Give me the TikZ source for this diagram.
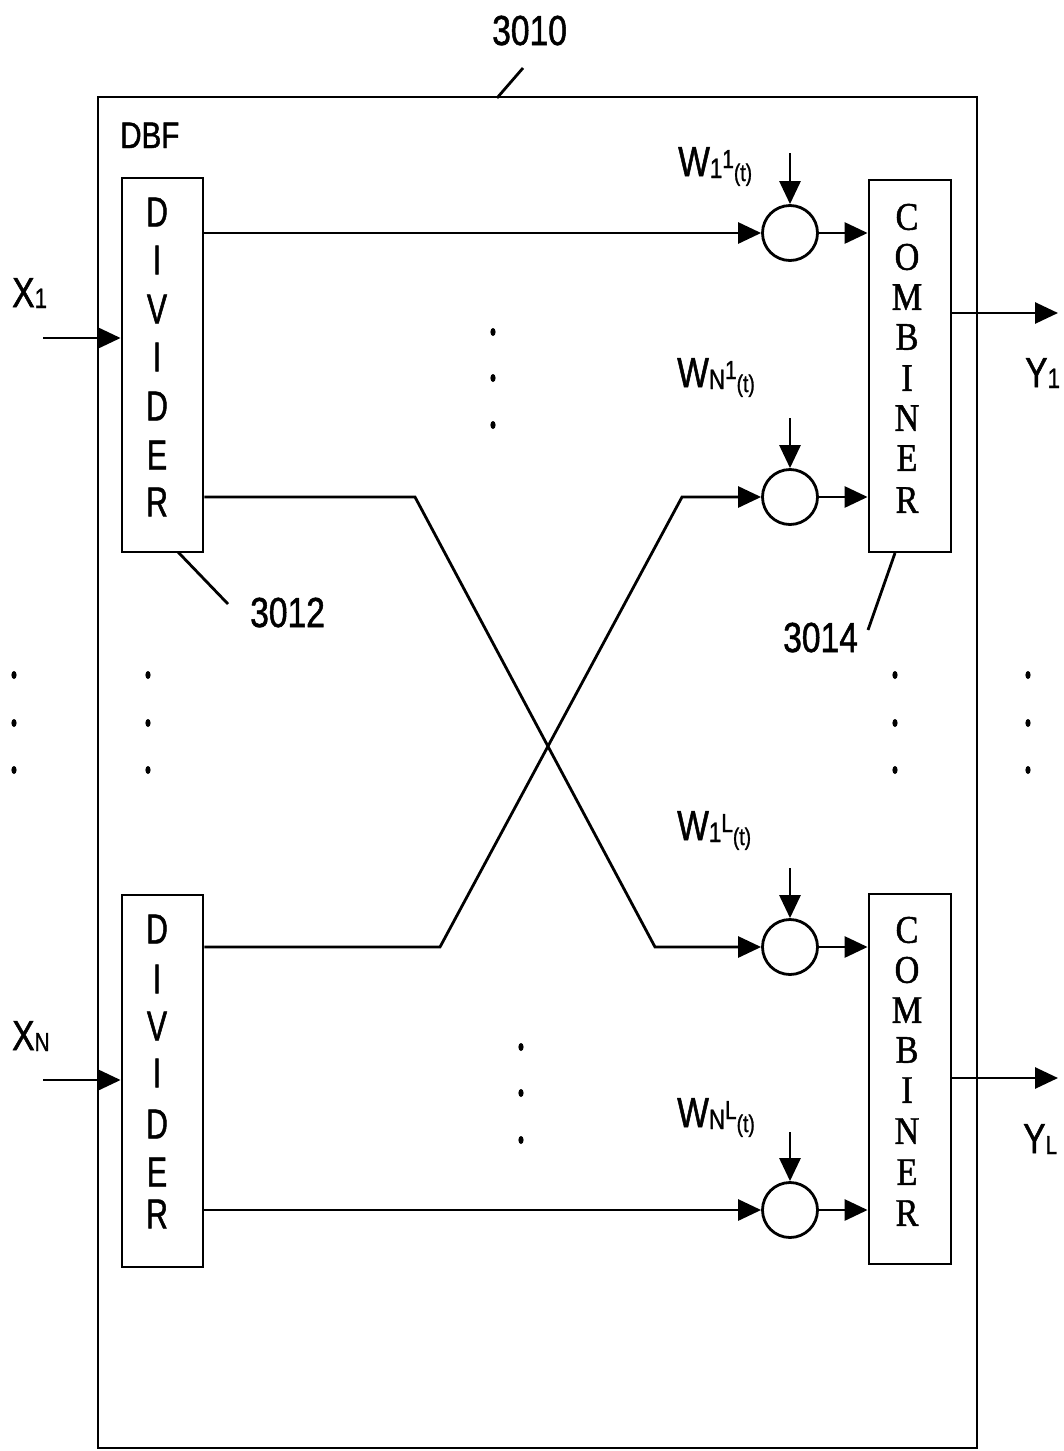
\documentclass[tikz,border=0pt]{standalone}
\usepackage{fontspec}
\setmainfont{Liberation Sans}
\newfontfamily\labf[FakeStretch=0.8,FakeBold=1.2]{Liberation Sans}
\newfontfamily\divf[FakeStretch=0.72,FakeBold=1.2]{Liberation Sans}
\newfontfamily\combf[FakeStretch=0.88,FakeBold=1.2]{Liberation Serif}
\usetikzlibrary{arrows.meta}
\newcommand{\wlabel}[2]{W\raisebox{-2pt}{\fontsize{28}{28}\selectfont #1}\raisebox{8pt}{\fontsize{26}{26}\selectfont #2}\raisebox{-5pt}{\fontsize{24}{24}\selectfont (t)}}
\newcommand{\sublab}[2]{#1\raisebox{-1pt}{\fontsize{28}{28}\selectfont #2}}
\tikzset{
  ln/.style={line width=2.8pt},
  arr/.style={ln, -{Triangle[length=23pt,width=21pt]}},
  blk/.style={draw, line width=2.8pt, inner sep=0pt, minimum width=81pt},
  mult/.style={draw, circle, line width=2.8pt, minimum size=55pt, inner sep=0pt},
  lbl/.style={inner sep=0pt, font=\labf\fontsize{42}{42}\selectfont, anchor=base west},
  dlet/.style={inner sep=0pt, font=\divf\fontsize{42}{42}\selectfont},
  clet/.style={inner sep=0pt, font=\combf\fontsize{39}{39}\selectfont},
}
\begin{document}
\begin{tikzpicture}[x=1pt, y=-1pt]
\useasboundingbox (0,0) rectangle (1063,1451);
% outer DBF box
\node[draw, line width=2.8pt, inner sep=0pt, minimum width=879pt, minimum height=1351pt] (dbf) at (537.5,772.5) {};
\node[lbl, font=\labf\fontsize{37}{37}\selectfont] (dbflab) at (120,148) {DBF};
\node[lbl] (t3010) at (492,45) {3010};
\coordinate (l10a) at (497,98);
\coordinate (l10b) at (523,68);
\draw[ln] (l10a) -- (l10b);

% dividers
\node[blk, minimum height=374pt] (div1) at (162.5,365) {};
\node[blk, minimum height=372pt] (div2) at (162.5,1081) {};
\foreach \l/\y [count=\i] in {D/212,I/260,V/309,I/357,D/406,E/455,R/502}
  \node[dlet] (d1l\i) at (157,\y) {\l};
\foreach \l/\y [count=\i] in {D/929,I/979,V/1026,I/1073,D/1124,E/1172,R/1214}
  \node[dlet] (d2l\i) at (157,\y) {\l};

% combiners
\node[blk, minimum width=82pt, minimum height=372pt] (comb1) at (910,366) {};
\node[blk, minimum width=82pt, minimum height=370pt] (comb2) at (910,1079) {};
\foreach \l/\y [count=\i] in {C/217,O/257,M/297,B/337,I/378,N/418,E/458,R/500}
  \node[clet] (c1l\i) at (907,\y) {\l};
\foreach \l/\y [count=\i] in {C/930,O/970,M/1010,B/1050,I/1090,N/1131,E/1172,R/1213}
  \node[clet] (c2l\i) at (907,\y) {\l};

% multipliers
\node[mult] (m11) at (790,233) {};
\node[mult] (mN1) at (790,497) {};
\node[mult] (m1L) at (790,947) {};
\node[mult] (mNL) at (790,1210) {};

% weight labels and arrows
\node[lbl] (w11lab) at (678,176) {\wlabel{1}{1}};
\node[lbl] (wN1lab) at (677,387) {\wlabel{N}{1}};
\node[lbl] (w1Llab) at (677,840) {\wlabel{1}{L}};
\node[lbl] (wNLlab) at (677,1127) {\wlabel{N}{L}};
\coordinate (w11) at (790,153);
\coordinate (wN1) at (790,418);
\coordinate (w1L) at (790,868);
\coordinate (wNL) at (790,1132);
\draw[arr] (w11) -- (m11);
\draw[arr] (wN1) -- (mN1);
\draw[arr] (w1L) -- (m1L);
\draw[arr] (wNL) -- (mNL);

% inputs
\node[lbl] (x1lab) at (12,307) {\sublab{X}{1}};
\node[lbl] (xNlab) at (12,1050) {X\raisebox{-1pt}{\fontsize{26}{26}\selectfont N}};
\coordinate (x1s) at (43,338);
\coordinate (xNs) at (43,1080);
\draw[arr] (x1s) -- (x1s -| div1.west);
\draw[arr] (xNs) -- (xNs -| div2.west);

% outputs
\node[lbl] (y1lab) at (1025,387) {\sublab{Y}{1}};
\node[lbl] (yLlab) at (1023,1153) {Y\raisebox{-1pt}{\fontsize{26}{26}\selectfont L}};
\coordinate (y1e) at (1058,313);
\coordinate (yLe) at (1058,1078);
\draw[arr] (y1e -| comb1.east) -- (y1e);
\draw[arr] (yLe -| comb2.east) -- (yLe);

% divider to multiplier connections
\draw[arr] (div1.east |- m11) -- (m11);
\coordinate (b1) at (415,497);
\coordinate (b2) at (655,947);
\draw[arr] (div1.east |- b1) -- (b1) -- (b2) -- (m1L);
\coordinate (b3) at (440,947);
\coordinate (b4) at (682,497);
\draw[arr] (div2.east |- b3) -- (b3) -- (b4) -- (mN1);
\draw[arr] (div2.east |- mNL) -- (mNL);

% multiplier to combiner
\draw[arr] (m11) -- (m11 -| comb1.west);
\draw[arr] (mN1) -- (mN1 -| comb1.west);
\draw[arr] (m1L) -- (m1L -| comb2.west);
\draw[arr] (mNL) -- (mNL -| comb2.west);

% reference numerals
\node[lbl] (t3012) at (250,627) {3012};
\coordinate (l12a) at (178,552);
\coordinate (l12b) at (228,604);
\draw[ln] (l12a) -- (l12b);
\node[lbl] (t3014) at (783,652) {3014};
\coordinate (l14a) at (895,553);
\coordinate (l14b) at (868,630);
\draw[ln] (l14a) -- (l14b);

% ellipsis dots
\foreach \x in {14,148,895,1028}
  \foreach \y in {675,723,770}
    \fill (\x,\y) ellipse (2.6pt and 4pt);
\foreach \y in {332,378,425}
  \fill (493,\y) ellipse (2.6pt and 4pt);
\foreach \y in {1047,1093,1140}
  \fill (521,\y) ellipse (2.6pt and 4pt);
\end{tikzpicture}
\end{document}
